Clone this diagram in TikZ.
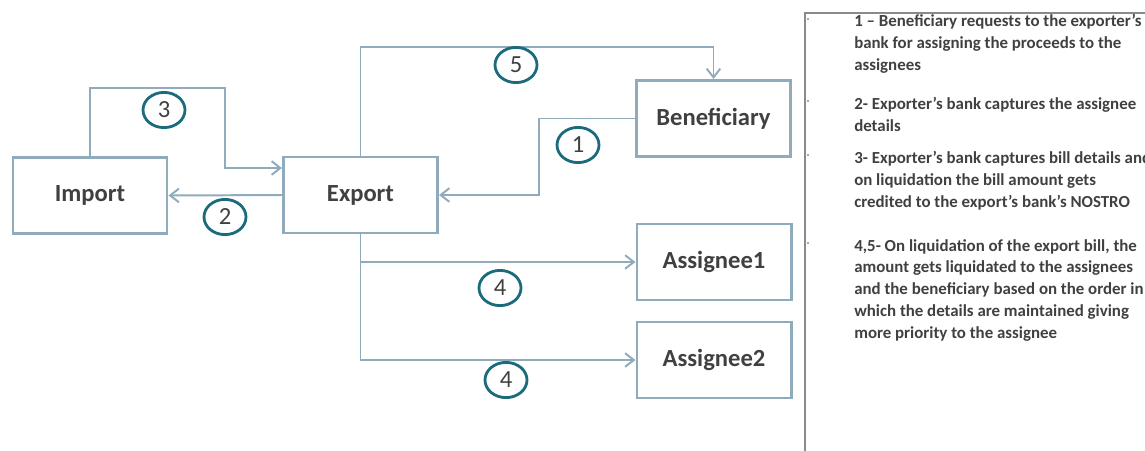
\documentclass[tikz,border=0pt]{standalone}
\usepackage{fontspec}
\setmainfont{Carlito}
\usetikzlibrary{shapes.geometric,positioning,arrows.meta,calc}
\definecolor{edgeblue}{HTML}{8FABBC}
\definecolor{ringteal}{HTML}{1B6B7C}
\definecolor{textgray}{HTML}{404040}
\definecolor{panelgray}{HTML}{8A8A8A}
\tikzset{
  party/.style={draw=edgeblue, line width=2.1pt, minimum width=3.85cm, minimum height=1.9cm, inner sep=0pt, align=center, text=textgray, font=\fontsize{17.5}{20}\selectfont\bfseries},
  flow/.style={->, draw=edgeblue, line width=1.4pt, >={Straight Barb[length=2.2mm,width=3.4mm]}},
  num/.style={ellipse, draw=ringteal, line width=2pt, minimum width=1.05cm, minimum height=0.88cm, inner sep=0pt, text=textgray, font=\fontsize{17.5}{20}\selectfont},
  note/.style={anchor=north west, align=left, text=textgray, font=\fontsize{12}{15.5}\selectfont\bfseries, inner sep=0pt},
  dot/.style={circle, fill=panelgray, inner sep=0.6pt},
}
\begin{document}
\begin{tikzpicture}[x=0.025cm, y=-0.025cm]
                \useasboundingbox (0,0) rectangle (1145,450);
                % --------
                % Parties
                % --------
                \node[party] at (90, 195.5) (import) {Import};
                \node[party] at (360.5, 195) (export) {Export};
                \node[party] at (713.5, 118.5) (beneficiary) {Beneficiary};
                \node[party] at (714, 262) (assignee1) {Assignee1};
                \node[party] at (714, 360) (assignee2) {Assignee2};
                
                % Draw line
                \coordinate (bend3) at (225, 88);
                \draw[flow] (import.north) |- (bend3) |- ($(export.west)+(0,-27)$);
                \draw[flow] (export.west) -- (import.east);
                \draw[flow] (export.north) |- ($(beneficiary.north)+(0,-32)$) -- (beneficiary.north);
                \draw[flow] (beneficiary.west) -| ($(export.east)+(100,0)$) -- (export.east);
                \draw[flow] (export.south) |- (assignee1.west);
                \draw[flow] (export.south) |- (assignee2.west);
                
                % Step numbers
                \node[num] at (164, 110) (n3) {3};
                \node[num] at (225, 217) (n2) {2};
                \node[num] at (516, 65) (n5) {5};
                \node[num] at (578, 145) (n1) {1};
                \node[num] at (500, 288) (n4a) {4};
                \node[num] at (506, 380) (n4b) {4};
                
                % --------
                % Notes
                % --------
                \draw[panelgray, line width=1pt] (1150, 13) -- (805, 13) -- (805, 455);
                \node[dot] at (808, 19) (b1) {};
                \node[dot] at (808, 101) (b2) {};
                \node[dot] at (808, 155) (b3) {};
                \node[dot] at (808, 243) (b4) {};
                
                \node[note] at (854, 14) (note1) {1 – Beneficiary requests to the exporter’s\\bank for assigning the proceeds to the\\assignees};
                \node[note] at (854, 97) (note2) {2- Exporter’s bank captures the assignee\\details};
                \node[note] at (854, 151) (note3) {3- Exporter’s bank captures bill details and\\on liquidation the bill amount gets\\credited to the export’s bank’s NOSTRO};
                \node[note] at (854, 239) (note4) {4,5- On liquidation of the export bill, the\\amount gets liquidated to the assignees\\and the beneficiary based on the order in\\which the details are maintained giving\\more priority to the assignee};
                
\end{tikzpicture}
\end{document}
